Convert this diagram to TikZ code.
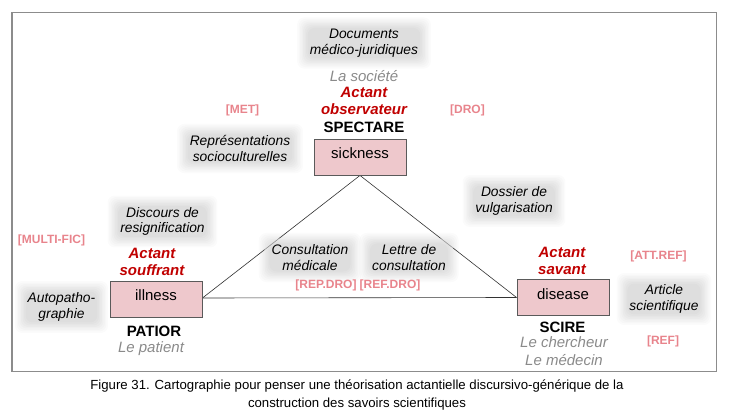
\documentclass[tikz,border=0pt]{standalone}
\usepackage{fontspec}
\setmainfont{Liberation Sans}
\usetikzlibrary{backgrounds}
\definecolor{boxpink}{RGB}{238,200,204}
\definecolor{boxedge}{RGB}{90,90,90}
\definecolor{actred}{RGB}{192,0,0}
\definecolor{tagpink}{RGB}{232,132,140}
\definecolor{whogray}{RGB}{138,138,138}
\definecolor{framegray}{RGB}{140,140,140}
\newcommand{\softbg}[1]{%
  \begin{scope}[on background layer]
    \fill[white,opacity=0.55,rounded corners=6pt] ([xshift=-4pt,yshift=-4pt]#1.south west) rectangle ([xshift=4pt,yshift=4pt]#1.north east);
    \foreach \d in {-1,0.5,2,3.5,5,6.5,8,9.5}{%
      \fill[black,opacity=0.016,rounded corners=7pt] ([xshift=-\d pt,yshift=-\d pt]#1.south west) rectangle ([xshift=\d pt,yshift=\d pt]#1.north east);}
  \end{scope}}
\tikzset{
  soft/.style={font=\fontsize{13.8}{15.5}\selectfont\itshape, align=center, inner xsep=3pt, inner ysep=2pt},
  act/.style={font=\fontsize{15}{17}\selectfont\bfseries\itshape, text=actred, align=center, inner sep=0pt},
  role/.style={font=\fontsize{15}{17}\selectfont\bfseries, inner sep=0pt},
  who/.style={font=\fontsize{15}{18}\selectfont\itshape, text=whogray, align=center, inner sep=0pt},
  tag/.style={font=\fontsize{12}{14}\selectfont\bfseries, text=tagpink, inner sep=0pt},
  pbox/.style={draw=boxedge, fill=boxpink, line width=0.9pt, minimum width=92pt, minimum height=36pt, font=\fontsize{15}{17}\selectfont, text height=11pt, text depth=8pt, inner sep=0pt},
  conn/.style={draw=black!80, line width=0.6pt}
}
\begin{document}
\begin{tikzpicture}[x=1pt,y=-1pt]
\useasboundingbox (0,0) rectangle (732,420);
\draw[framegray, line width=1.2pt] (12,12.5) rectangle (716.5,371.5);

% boxes
\node[pbox] (sick) at (360,157) {sickness};
\node[pbox] (ill) at (156,299) {illness};
\node[pbox] (dis) at (563,297.5) {disease};

% top actant
\node[soft] (docs) at (364,43) {Documents\\médico-juridiques};
\node[who] (soc) at (364,76) {La société};
\node[act] (actobs) at (364,101) {Actant\\observateur};
\node[role] (spect) at (364,127) {SPECTARE};

% left actant
\node[soft] (disc) at (162.5,221.5) {Discours de\\resignification};
\node[act] (souff) at (152,261.5) {Actant\\souffrant};
\node[soft] (auto) at (61.5,307) {Autopatho-\\graphie};
\node[role] (patior) at (154,331) {PATIOR};
\node[who] (patient) at (151,349) {Le patient};

% right actant
\node[act] (sav) at (562,260.5) {Actant\\savant};
\node[role] (scire) at (562.5,327) {SCIRE};
\node[who] (cherch) at (564,351.5) {Le chercheur\\Le médecin};
\node[soft] (art) at (664,299) {Article\\scientifique};

% other soft boxes
\node[soft] (repr) at (240,148.5) {Représentations\\socioculturelles};
\node[soft] (doss) at (514,201) {Dossier de\\vulgarisation};
\node[soft] (cons) at (310,257.5) {Consultation\\médicale};
\node[soft] (lett) at (409,257.5) {Lettre de\\consultation};

% tags
\node[tag] (met) at (242.5,110.5) {[MET]};
\node[tag] (dro) at (467.5,110.5) {[DRO]};
\node[tag] (multi) at (51.5,240) {[MULTI-FIC]};
\node[tag] (repdro) at (326,285) {[REP.DRO]};
\node[tag] (refdro) at (390,285) {[REF.DRO]};
\node[tag] (attref) at (658.5,256) {[ATT.REF]};
\node[tag] (ref) at (663,341.5) {[REF]};

% connectors (behind soft boxes)
\begin{scope}[on background layer]
  \draw[conn] (sick.south) -- ([yshift=1pt]ill.east);
  \draw[conn] (sick.south) -- (dis.west);
  \draw[conn] ([yshift=1pt]ill.east) -- (dis.west);
\end{scope}

\softbg{docs}
\softbg{repr}
\softbg{doss}
\softbg{disc}
\softbg{auto}
\softbg{cons}
\softbg{lett}
\softbg{art}

% caption
\node[font=\fontsize{13.2}{18}\selectfont, align=center, inner sep=0pt] (cap) at (357,395) {Figure 31. Cartographie pour penser une théorisation actantielle discursivo-générique de la\\construction des savoirs scientifiques};
\end{tikzpicture}
\end{document}
